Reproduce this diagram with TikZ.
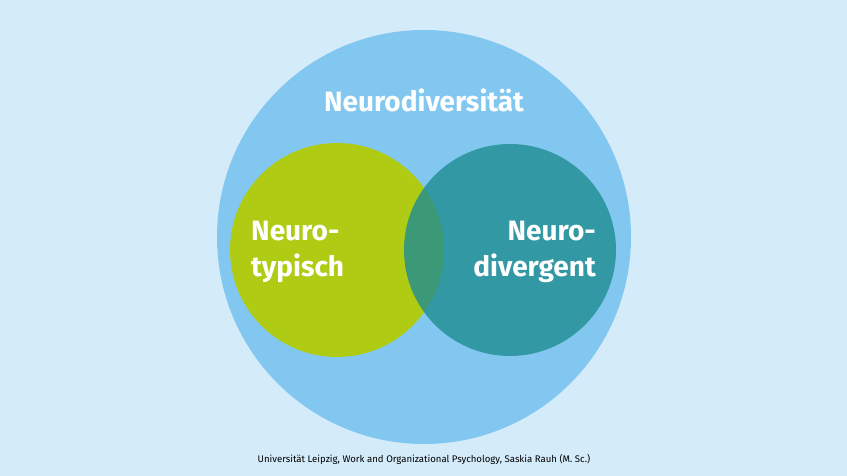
\documentclass[tikz,border=0pt]{standalone}
\usepackage{fontspec}
\setmainfont{Fira Sans}
\definecolor{bg}{RGB}{212,235,249}
\definecolor{big}{RGB}{130,199,240}
\definecolor{grn}{RGB}{176,203,20}
\definecolor{teal}{RGB}{31,141,146}
\begin{document}
\begin{tikzpicture}[x=1pt,y=1pt,
  lbl/.style={text=white,font=\fontsize{28}{36}\selectfont\bfseries,inner sep=0pt}]
\fill[bg] (0,0) rectangle (847,476);
\useasboundingbox (0,0) rectangle (847,476);
\node[circle,fill=big,minimum size=414pt,inner sep=0pt] (all) at (424,239) {};
\node[circle,fill=grn,minimum size=214pt,inner sep=0pt] (nt) at (337,226) {};
\node[circle,fill=teal,fill opacity=0.8,minimum size=212pt,inner sep=0pt] (nd) at (510,226) {};
\node[lbl] (t0) at (424,376) {Neurodiversität};
\node[lbl,anchor=west,align=left] (t1) at (251,224) {Neuro-\\typisch};
\node[lbl,anchor=east,align=right] (t2) at (596,224) {Neuro-\\divergent};
\node[font=\fontsize{9.6}{11}\selectfont,text=black] (ft) at (424,17) {Universität Leipzig, Work and Organizational Psychology, Saskia Rauh (M. Sc.)};
\end{tikzpicture}
\end{document}
